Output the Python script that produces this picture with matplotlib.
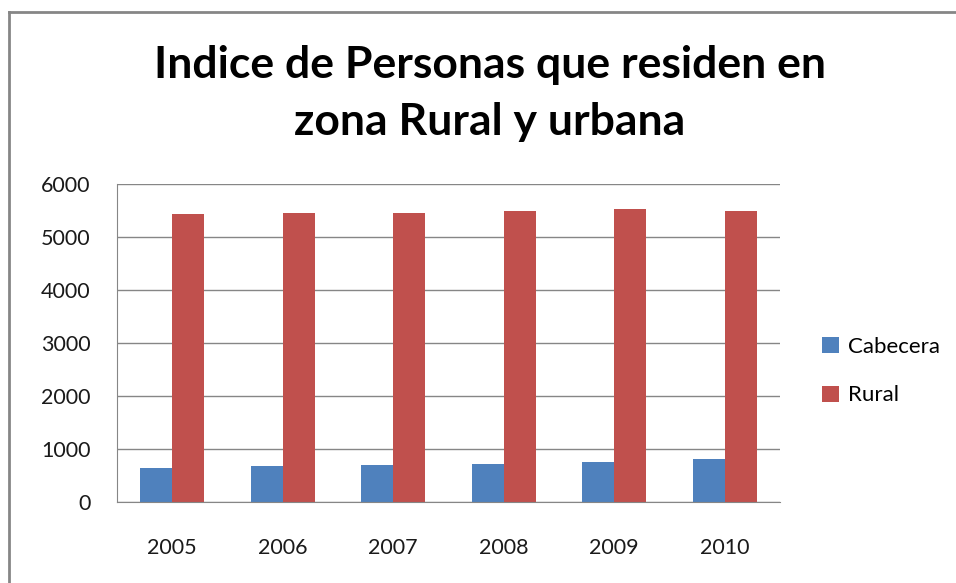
import matplotlib.pyplot as plt
import numpy as np
from matplotlib.lines import Line2D

plt.rcParams["font.family"] = ["Lato", "DejaVu Sans"]

years = ["2005", "2006", "2007", "2008", "2009", "2010"]
cabecera = [635, 680, 706, 725, 755, 820]
rural = [5430, 5450, 5450, 5500, 5530, 5500]
yticks = [0, 1000, 2000, 3000, 4000, 5000, 6000]

fig = plt.figure(figsize=(9.56, 5.83), dpi=100)
W, H = 956, 583

# marco exterior: solo se ven los bordes superior e izquierdo
fig.add_artist(Line2D([9 / W, 1.0], [1 - 12 / H, 1 - 12 / H],
                      transform=fig.transFigure, color="#868686", linewidth=2))
fig.add_artist(Line2D([9 / W, 9 / W], [0.0, 1 - 12 / H],
                      transform=fig.transFigure, color="#868686", linewidth=2))

ax = fig.add_axes([117 / W, (H - 502) / H, (780 - 117) / W, (502 - 184) / H])

x = np.arange(len(years))
width = 0.29
ax.bar(x - width / 2, cabecera, width, color="#4F81BD", label="Cabecera")
ax.bar(x + width / 2, rural, width, color="#C0504D", label="Rural")

ax.set_xlim(-0.5, len(years) - 0.5)
ax.set_ylim(0, 6000)
ax.set_yticks(yticks)
ax.set_xticks(x)
ax.set_xticklabels(years)
ax.tick_params(axis="both", length=0, labelsize=15.5, colors="#1a1a1a")
ax.tick_params(axis="x", pad=26)
ax.tick_params(axis="y", pad=19)
ax.yaxis.grid(True, color="#868686", linewidth=1)
ax.set_axisbelow(True)
for side in ["top", "right"]:
    ax.spines[side].set_visible(False)
ax.spines["left"].set_color("#868686")
ax.spines["bottom"].set_color("#868686")

fig.text(490 / W, 1 - 65 / H, "Indice de Personas que residen en",
         ha="center", va="center", fontsize=32, fontweight="bold")
fig.text(490 / W, 1 - 122 / H, "zona Rural y urbana",
         ha="center", va="center", fontsize=32, fontweight="bold")

fig.legend(loc="center left", bbox_to_anchor=(802 / W, 1 - 371 / H),
           frameon=False, fontsize=16, handlelength=0.75, handleheight=0.75,
           labelspacing=1.3, handletextpad=0.4)

fig.savefig("out.png", dpi=100)
